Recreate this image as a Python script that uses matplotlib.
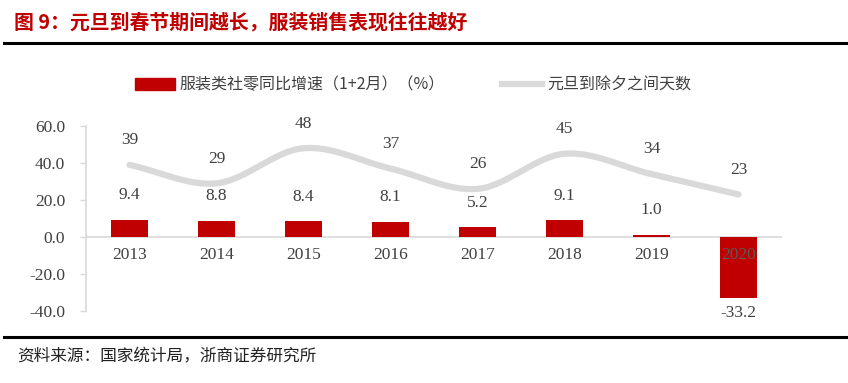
import numpy as np
import matplotlib
matplotlib.use('Agg')
import matplotlib.pyplot as plt
from matplotlib.lines import Line2D
from matplotlib.patches import Patch

years = ['2013', '2014', '2015', '2016', '2017', '2018', '2019', '2020']
growth = [9.4, 8.8, 8.4, 8.1, 5.2, 9.1, 1.0, -33.2]   # 服装类社零同比增速（1+2月）
days = [39, 29, 48, 37, 26, 45, 34, 23]               # 元旦到除夕之间天数

RED = '#c00000'
GREY = '#d9d9d9'
TXT = '#404040'
CJK = ['Noto Sans CJK SC', 'DejaVu Sans']
NUM = ['Liberation Serif', 'DejaVu Serif']


# catmull-rom curve through the points, like excel's smoothed line
def smooth(y, n=30):
    y = np.asarray(y, dtype=float)
    p = np.concatenate([[2 * y[0] - y[1]], y, [2 * y[-1] - y[-2]]])
    xs, ys = [], []
    for i in range(1, len(p) - 2):
        t = np.linspace(0, 1, n, endpoint=False)
        p0, p1, p2, p3 = p[i - 1], p[i], p[i + 1], p[i + 2]
        v = 0.5 * (2 * p1 + (-p0 + p2) * t + (2 * p0 - 5 * p1 + 4 * p2 - p3) * t ** 2
                   + (-p0 + 3 * p1 - 3 * p2 + p3) * t ** 3)
        xs.append(i - 1 + t)
        ys.append(v)
    xs.append([len(y) - 1])
    ys.append([y[-1]])
    return np.concatenate(xs), np.concatenate(ys)


fig = plt.figure(figsize=(8.48, 3.83), dpi=100)
ax = fig.add_axes([86 / 848, 1 - 311 / 383, (782 - 86) / 848, (311 - 126) / 383])

x = np.arange(len(years))
ax.bar(x, growth, width=0.42, color=RED, zorder=2)
sx, sy = smooth(days)
ax.plot(sx, sy, color=GREY, lw=4.5, solid_capstyle='round', zorder=3)

ax.set_xlim(-0.5, len(years) - 0.5)
ax.set_ylim(-40, 60)
ax.set_yticks(np.arange(-40, 61, 20))
ax.set_yticklabels(['%.1f' % v for v in np.arange(-40, 61, 20)], family=NUM, fontsize=12.5, color=TXT)
ax.set_xticks([])
ax.tick_params(axis='y', length=4, width=1, color=GREY, pad=11)
for s in ['top', 'right', 'bottom']:
    ax.spines[s].set_visible(False)
ax.spines['left'].set_color(GREY)
ax.spines['left'].set_linewidth(1.2)
ax.axhline(0, color=GREY, lw=1.2, zorder=1)

for i, y in enumerate(years):
    ax.text(i, -5.5, y, ha='center', va='top', family=NUM, fontsize=12.5,
            color='#595959' if growth[i] < 0 else TXT, zorder=6)
for i, v in enumerate(growth):
    if v >= 0:
        ax.text(i, v + 9, '%.1f' % v, ha='center', va='bottom', family=NUM, fontsize=12.5, color=TXT, zorder=6)
    else:
        ax.text(i, v - 3.5, '%.1f' % v, ha='center', va='top', family=NUM, fontsize=12.5, color=TXT, zorder=6)
for i, d in enumerate(days):
    ax.text(i, d + 9, str(d), ha='center', va='bottom', family=NUM, fontsize=12.5, color=TXT, zorder=6)

handles = [Patch(color=RED), Line2D([], [], color=GREY, lw=4.5)]
labels = ['服装类社零同比增速（1+2月）（%）', '元旦到除夕之间天数']
fig.legend(handles, labels, loc='center', bbox_to_anchor=(0.487, 1 - 85 / 383), ncol=2, frameon=False,
           prop={'family': CJK, 'size': 11.5}, handlelength=2.5, handleheight=0.8,
           columnspacing=3.6, handletextpad=0.3, labelcolor=TXT)

fig.text(14 / 848, 1 - 22 / 383, '图 9：元旦到春节期间越长，服装销售表现往往越好', family=CJK,
         fontsize=14.3, fontweight='bold', color=RED, va='center')
fig.add_artist(Line2D([4 / 848, 1], [1 - 43 / 383] * 2, color='black', lw=2.2))
fig.add_artist(Line2D([4 / 848, 1], [1 - 337 / 383] * 2, color='black', lw=2.2))
fig.text(17 / 848, 1 - 357 / 383, '资料来源：国家统计局，浙商证券研究所', family=CJK,
         fontsize=12, color='#222222', va='center')

fig.savefig('out.png', dpi=100)
